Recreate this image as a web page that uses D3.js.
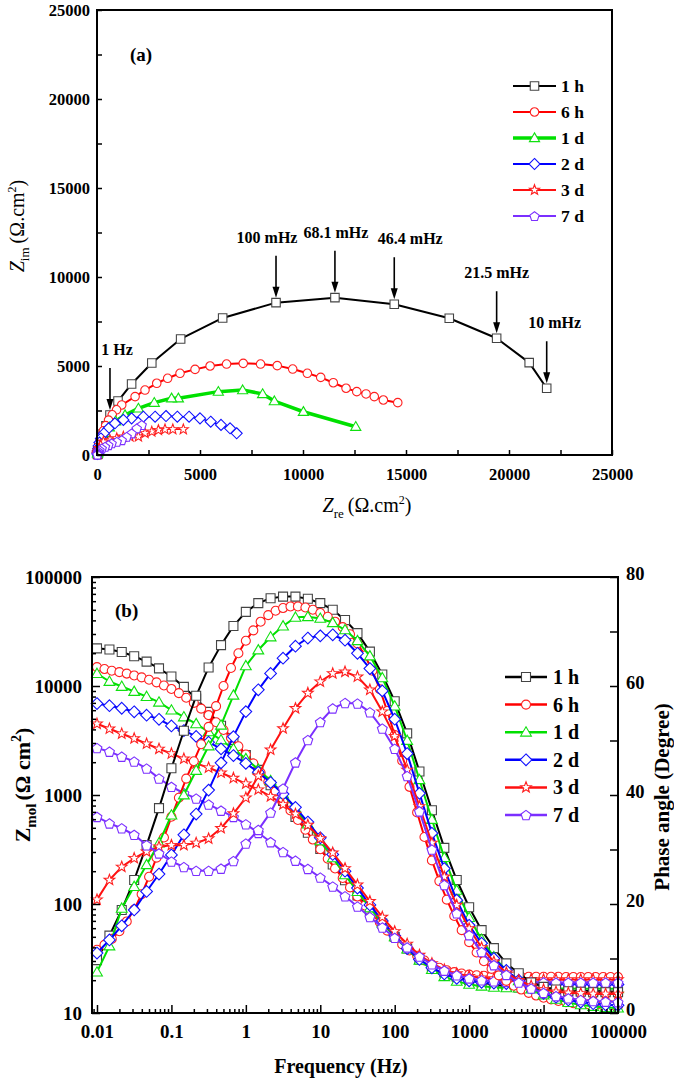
<!DOCTYPE html>
<html>
<head>
<meta charset="utf-8">
<script src="https://cdn.jsdelivr.net/npm/d3@7"></script>
<style>
  body { margin: 0; background: #fff; }
  svg { display: block; }
</style>
</head>
<body>
<svg id="chart" width="674" height="1080"></svg>
<script>
// ===== Data =====
const seriesNames  = ['1 h', '6 h', '1 d', '2 d', '3 d', '7 d'];
const seriesColors = ['#000000', '#ff0000', '#00e000', '#0000ff', '#ff1010', '#7b2fff'];
const markerColors = ['#444444', '#ff2020', '#10e010', '#1010ff', '#ff2020', '#7b2fff'];
const markerTypes  = ['square', 'circle', 'triangle', 'diamond', 'star', 'pentagon'];

// (a) Nyquist: [Zre, Zim], from 10 mHz upward
const nyq1h = [[21830,3750],[20980,5190],[19400,6560],[17100,7680],[14430,8470],[11550,8840],
  [8690,8560],[6100,7700],[4060,6520],[2660,5170],[1680,3990],[1020,3030],[630,2250],[435,1640],
  [300,1190],[210,860],[150,610],[110,440],[80,310],[60,220],[50,160],[40,110],[35,75],[30,50],[27,30]];
const nyq6h = [[14600,2940],[13900,3090],[13460,3280],[13060,3430],[12610,3560],[12090,3750],
  [11470,4060],[10860,4360],[10210,4590],[9500,4830],[8750,5020],[7940,5110],[7100,5150],[6290,5110],
  [5490,5000],[4760,4810],[4030,4590],[3430,4310],[2900,4030],[2330,3650],[1850,3280],[1200,2810],
  [950,2540],[740,2260],[560,1960],[420,1650],[310,1360],[220,1080],[160,830],[115,620],[85,450],
  [60,310],[45,200],[35,120],[28,70]];
const nyq1d = [[12560,1590],[10020,2430],[8610,3030],[8040,3430],[7070,3650],[5890,3560],[3950,3190],
  [3620,3190],[2780,2940],[2010,2620],[1360,2250],[900,1900],[600,1560],[400,1250],[270,980],[180,750],
  [120,560],[85,410],[60,290],[45,200],[35,130],[28,80]];
const nyq2d = [[6780,1220],[6460,1500],[6020,1690],[5520,1870],[5000,2060],[4470,2150],[3900,2150],
  [3350,2190],[2820,2150],[2250,2150],[1680,2060],[1280,1970],[870,1780],[560,1500],[330,1210],
  [190,930],[120,700],[80,510],[58,360],[44,250],[35,160],[29,100],[25,60]];
const nyq3d = [[4190,1440],[3680,1440],[3300,1440],[2980,1400],[2660,1310],[2330,1220],[2010,1030],
  [1600,1030],[1280,1030],[960,940],[630,840],[310,750],[180,560],[110,380],[70,250],[45,150],[32,90],[25,50]];
const nyq7d = [[2170,1690],[1930,1500],[1680,1220],[1440,1030],[1200,840],[960,750],[710,660],
  [550,560],[390,470],[230,370],[120,280],[65,200],[40,130],[30,80],[24,45],[21,25]];

// (b) Bode frequencies (Hz)
const freqA = [0.01,0.0147,0.0215,0.0316,0.0464,0.0681,
  0.1,0.147,0.215,0.316,0.464,0.681, 1,1.47,2.15,3.16,4.64,6.81,
  10,14.7,21.5,31.6,46.4,68.1, 100,147,215,316,464,681,
  1000,1470,2150,3160,4640,6810, 10000,14700,21500,31600,46400,68100, 100000];
const freqB = [0.01,0.0126,0.0158,0.02,0.0251,0.0316,0.0398,0.0501,0.0631,0.0794,
  0.1,0.126,0.158,0.2,0.251,0.316,0.398,0.501,0.631,0.794,
  1,1.26,1.58,2,2.51,3.16,3.98,5.01,6.31,7.94,
  10,12.6,15.8,20,25.1,31.6,39.8,50.1,63.1,79.4,
  100,126,158,200,251,316,398,501,631,794,
  1000,1260,1580,2000,2510,3160,3980,5010,6310,7940,
  10000,12600,15800,20000,25100,31600,39800,50100,63100,79400, 100000];

// |Z| (ohm cm2)
const zmod1h = [22150,21600,20480,18740,16750,14500,12230,9820,7690,5790,4320,3200,
  2330,1700,1230,880,630,450,320,230,165,120,88,66,50,39,31,26,23.5,21.5,
  20,19,18.2,17.6,17.2,16.8,16.5,16.3,16.1,16,15.9,15.8,15.7];
const zmod6h = [14900,14300,13800,13400,13000,12500,12000,11400,10800,10100,
  9400,8600,7800,7000,6200,5400,4650,3950,3350,2800,
  2350,1950,1600,1320,1080,880,720,590,480,390,
  318,260,212,173,142,117,97,81,68,57,
  49,42.5,37.5,33.5,30.3,27.8,26,24.7,23.7,23,
  22.5,22.2,22,21.8,21.7,21.6,21.6,21.5,21.5,21.5,
  21.5,21.5,21.5,21.4,21.4,21.4,21.4,21.4,21.4,21.4,21.4];
const zmod1d = [13000,11000,9900,8900,8000,7100,6000,5200,4500,3800,3200,2650,
  2150,1720,1350,1020,750,540,380,265,185,130,92,67,50,38.5,30.5,25,21.5,19.5,
  18.3,17.6,17.2,17,16.9,16.9,16.8,16.8,16.8,16.7,16.7,16.7,16.7];
const zmod2d = [6900,6600,6250,5800,5400,4950,4300,3900,3450,3050,2650,2300,
  1950,1620,1300,1020,770,565,405,285,200,140,98,70,51,39,31,26,22.8,20.8,
  19.7,19.1,18.8,18.6,18.5,18.5,18.4,18.4,18.4,18.4,18.3,18.3,18.3];
const zmod3d = [4500,4050,3650,3300,2950,2650,2400,2150,1950,1780,1600,1430,
  1270,1120,970,820,670,530,400,295,212,150,106,76,56,43,34,28.5,25,23,
  21.8,21.1,20.7,20.5,20.4,20.4,20.3,20.3,20.3,20.3,20.3,20.3,20.3];
const zmod7d = [2700,2500,2250,2030,1750,1420,1190,1040,930,820,720,630,
  540,450,370,300,250,210,175,145,118,95,76,61,49,40,33,28,24.5,22.2,
  20.8,20,19.6,19.3,19.2,19.1,19.1,19,19,19,19,19,19];

// phase angle (degree)
const phase1h = [9.7,14.2,18.9,24.4,30.8,37.6,44.9,51.8,58.2,63.4,67.5,71,
  73.6,75.2,76.1,76.4,76.4,76,75.2,74,72.1,69.7,66.3,62.1,57.2,51.3,44.3,37.2,30.3,24.4,
  19.4,15.2,11.9,9.1,7.3,5.6,4.8,4.3,4,3.9,3.8,3.8,3.8];
const phase6h = [11.6,12.5,13.6,15,16.8,19,21.8,25,28.5,32.2,
  36,39.5,43,46.2,49.3,52.5,56.3,60,63.3,66,
  68.3,70.2,71.8,73,73.8,74.3,74.6,74.6,74.4,74,
  73.4,72.7,71.8,70.8,69.5,67.8,65.6,62.8,59.4,55.4,
  51,46.3,41.5,36.8,32.3,28,24.2,20.8,17.8,15.2,
  13,11.1,9.5,8.1,6.9,5.9,5,4.3,3.7,3.2,
  2.8,2.5,2.2,2,1.8,1.7,1.6,1.5,1.4,1.4,1.3];
const phase1d = [7.5,12.3,19.2,23.2,27.2,31.2,36.3,40,44.5,49,52.8,58.3,
  63.7,66.6,69,71,72.6,72.7,72.4,71.6,70.3,68.3,65.5,61.5,56.3,50,42.8,35.5,28.5,22.5,
  17.5,13.5,10.3,7.8,5.9,4.4,3.3,2.5,1.9,1.5,1.2,1,0.9];
const phase2d = [11,13.4,16,18.9,22.3,25.5,29,32.7,36.5,40.9,45.9,50.7,
  55.3,59.3,62.3,65.1,67.3,68.8,69.2,69.4,68.4,66,63.2,59.1,53.9,47.6,40.3,33,26.5,20.7,
  16.1,12.8,10,7.8,6,4.6,3.6,2.9,2.4,2,1.7,1.5,1.4];
const phase3d = [20.8,24.4,26.8,28.4,29.6,30.5,30.8,30.8,31.2,32,33.9,36.6,
  39.5,43.5,48.3,52.2,55.9,58.7,60.8,62.3,62.6,61.7,59.3,55.3,50.8,44.6,37.9,31.2,25,19.8,
  15.5,12,9.4,7.4,6,5,4.3,3.9,3.7,3.6,3.5,3.5,3.5];
const phase7d = [36,34.8,33.9,32.7,30.8,29.3,27.8,26.8,26.1,26.1,26.5,27.9,
  31.1,33.6,36.8,41.2,46,50.1,53.4,55.9,56.9,56.8,55.2,52.2,48.5,43.5,37,30,23.5,18.3,
  14.3,11.2,8.8,7,5.6,4.5,3.7,3.1,2.7,2.4,2.2,2.1,2];

// Frequency labels marked on the 1 h Nyquist curve, with the index of the point
const annLabels = ['1 Hz', '100 mHz', '68.1 mHz', '46.4 mHz', '21.5 mHz', '10 mHz'];
const annIndex  = [12, 6, 5, 4, 2, 0];

const nyquist   = [nyq1h, nyq6h, nyq1d, nyq2d, nyq3d, nyq7d];
const bodeFreq  = [freqA, freqB, freqA, freqA, freqA, freqA];
const bodeMod   = [zmod1h, zmod6h, zmod1d, zmod2d, zmod3d, zmod7d];
const bodePhase = [phase1h, phase6h, phase1d, phase2d, phase3d, phase7d];

// ===== Helpers =====
const FONT = '"Liberation Serif", "Times New Roman", serif';
const svg = d3.select('#chart');

function polyPath(pts) {
    return 'M' + pts.map(p => p[0].toFixed(2) + ',' + p[1].toFixed(2)).join('L') + 'Z';
}

// open Origin-style marker, s = nominal width in px
function markerPath(type, s) {
    const h = s / 2;
    if (type === 'square')   return polyPath([[-h,-h],[h,-h],[h,h],[-h,h]]);
    if (type === 'circle')   return `M${h},0A${h},${h} 0 1,1 ${-h},0A${h},${h} 0 1,1 ${h},0Z`;
    if (type === 'triangle') { const r = h * 1.2; return polyPath([[0,-r],[r,r*0.72],[-r,r*0.72]]); }
    if (type === 'diamond')  { const r = h * 1.3; return polyPath([[0,-r],[r,0],[0,r],[-r,0]]); }
    if (type === 'star') {
        const pts = [];
        for (let k = 0; k < 10; k++) {
            const r = k % 2 === 0 ? h * 1.25 : h * 0.52;
            const a = -Math.PI / 2 + k * Math.PI / 5;
            pts.push([r * Math.cos(a), r * Math.sin(a)]);
        }
        return polyPath(pts);
    }
    // pentagon
    const pts = [];
    for (let k = 0; k < 5; k++) {
        const a = -Math.PI / 2 + k * 2 * Math.PI / 5;
        pts.push([h * 1.15 * Math.cos(a), h * 1.15 * Math.sin(a) + 0.6]);
    }
    return polyPath(pts);
}

function drawSeries(g, pts, xs, ys, i, lw, ms) {
    const line = d3.line().x(d => xs(d[0])).y(d => ys(d[1]));
    g.append('path')
        .attr('d', line(pts))
        .attr('fill', 'none')
        .attr('stroke', seriesColors[i])
        .attr('stroke-width', lw)
        .attr('stroke-linejoin', 'round');
    g.selectAll(null).data(pts).join('path')
        .attr('transform', d => `translate(${xs(d[0])},${ys(d[1])})`)
        .attr('d', markerPath(markerTypes[i], ms))
        .attr('fill', '#fff')
        .attr('stroke', markerColors[i])
        .attr('stroke-width', 1.1);
}

function styleAxis(g, size) {
    g.select('.domain').remove();
    g.selectAll('line').attr('stroke', '#000').attr('stroke-width', 1.5);
    g.selectAll('text')
        .attr('font-family', FONT)
        .attr('font-size', size)
        .attr('font-weight', 'bold')
        .attr('fill', '#000');
}

function drawLegend(x1, x2, xt, y0, dy, size, ms, lws) {
    seriesNames.forEach((name, i) => {
        const y = y0 + i * dy;
        const xm = (x1 + x2) / 2;
        svg.append('line')
            .attr('x1', x1).attr('x2', x2).attr('y1', y).attr('y2', y)
            .attr('stroke', seriesColors[i]).attr('stroke-width', lws[i]);
        svg.append('path')
            .attr('transform', `translate(${xm},${y})`)
            .attr('d', markerPath(markerTypes[i], ms))
            .attr('fill', '#fff').attr('stroke', markerColors[i]).attr('stroke-width', 1.1);
        svg.append('text')
            .attr('x', xt).attr('y', y).attr('dy', '0.35em')
            .attr('font-family', FONT).attr('font-size', size).attr('font-weight', 'bold')
            .text(name);
    });
}

// ===== Panel (a): Nyquist =====
const xA = d3.scaleLinear().domain([0, 25000]).range([97, 612]);
const yA = d3.scaleLinear().domain([0, 25000]).range([455, 10]);

const gA = svg.append('g');
const lwA = [2, 2, 3.5, 1.5, 1.5, 1.5];
nyquist.forEach((pts, i) => drawSeries(gA, pts, xA, yA, i, lwA[i], 8.5));

const axA_x = svg.append('g').attr('transform', 'translate(0,455)')
    .call(d3.axisBottom(xA).tickValues(d3.range(0, 25001, 2500))
        .tickFormat(d => d % 5000 === 0 ? d : '')
        .tickSizeInner(-5).tickSizeOuter(0).tickPadding(13));
styleAxis(axA_x, 16.5);

const axA_y = svg.append('g').attr('transform', 'translate(97,0)')
    .call(d3.axisLeft(yA).tickValues(d3.range(0, 25001, 2500))
        .tickFormat(d => d % 5000 === 0 ? d : '')
        .tickSizeInner(-5).tickSizeOuter(0).tickPadding(7));
styleAxis(axA_y, 16.5);

svg.append('rect').attr('x', 97).attr('y', 10).attr('width', 515).attr('height', 445)
    .attr('fill', 'none').attr('stroke', '#000').attr('stroke-width', 2);

// frequency annotations with arrows
const annDx = [7, -9, 1, 16, 0, 8];
annLabels.forEach((lab, j) => {
    const p = nyq1h[annIndex[j]];
    const px = xA(p[0]), py = yA(p[1]);
    const base = py - 60;
    svg.append('text')
        .attr('x', px + annDx[j]).attr('y', base)
        .attr('text-anchor', 'middle')
        .attr('font-family', FONT).attr('font-size', 16).attr('font-weight', 'bold')
        .text(lab);
    const tipY = py - 5;
    svg.append('line')
        .attr('x1', px).attr('x2', px).attr('y1', base + 13).attr('y2', tipY - 8)
        .attr('stroke', '#000').attr('stroke-width', 1.6);
    svg.append('path')
        .attr('d', polyPath([[px - 3.5, tipY - 11], [px + 3.5, tipY - 11], [px, tipY]]))
        .attr('fill', '#000');
});

svg.append('text').attr('x', 130).attr('y', 61)
    .attr('font-family', FONT).attr('font-size', 19).attr('font-weight', 'bold').text('(a)');

drawLegend(513, 556, 561, 86, 26, 17.5, 8.5, [2, 2, 3.5, 2, 2, 2]);

// axis titles (a)
const tA_y = svg.append('text')
    .attr('transform', 'translate(24,226) rotate(-90)')
    .attr('text-anchor', 'middle')
    .attr('font-family', FONT).attr('font-size', 20);
tA_y.append('tspan').attr('font-style', 'italic').text('Z');
tA_y.append('tspan').attr('font-size', 13).attr('dy', 5).text('im');
tA_y.append('tspan').attr('dy', -5).attr('dx', 4).text('(Ω.cm');
tA_y.append('tspan').attr('font-size', 12).attr('dy', -8).text('2');
tA_y.append('tspan').attr('dy', 8).text(')');

const tA_x = svg.append('text')
    .attr('transform', 'translate(367,512)')
    .attr('text-anchor', 'middle')
    .attr('font-family', FONT).attr('font-size', 20);
tA_x.append('tspan').attr('font-style', 'italic').text('Z');
tA_x.append('tspan').attr('font-size', 13).attr('dy', 6).text('re');
tA_x.append('tspan').attr('dy', -6).attr('dx', 4).text('(Ω.cm');
tA_x.append('tspan').attr('font-size', 12).attr('dy', -8).text('2');
tA_x.append('tspan').attr('dy', 8).text(')');

// ===== Panel (b): Bode =====
const xB  = d3.scaleLog().domain([0.00857, 1e5]).range([92, 618]);
const yBm = d3.scaleLog().domain([10, 1e5]).range([1013, 577]);
const yBp = d3.scaleLinear().domain([0, 80]).range([1013, 577]);

const gB = svg.append('g');
bodeMod.forEach((mod, i) => {
    const pts = bodeFreq[i].map((f, j) => [f, mod[j]]);
    drawSeries(gB, pts, xB, yBm, i, 2, 9);
});
bodePhase.forEach((ph, i) => {
    const pts = bodeFreq[i].map((f, j) => [f, ph[j]]);
    drawSeries(gB, pts, xB, yBp, i, 2, 9);
});

const decX = [0.01, 0.1, 1, 10, 100, 1000, 10000, 100000];
const minorX = [];
[0.001, 0.01, 0.1, 1, 10, 100, 1000, 10000].forEach(d => {
    for (let m = 2; m <= 9; m++) { const v = d * m; if (v > 0.00857 && v < 1e5) minorX.push(v); }
});
const decY = [10, 100, 1000, 10000, 100000];
const minorY = [];
decY.slice(0, 4).forEach(d => { for (let m = 2; m <= 9; m++) minorY.push(d * m); });

const axB_x = svg.append('g').attr('transform', 'translate(0,1013)')
    .call(d3.axisBottom(xB).tickValues(decX).tickFormat(d => String(d))
        .tickSizeInner(-8).tickSizeOuter(0).tickPadding(12));
styleAxis(axB_x, 19);
const axB_xm = svg.append('g').attr('transform', 'translate(0,1013)')
    .call(d3.axisBottom(xB).tickValues(minorX).tickFormat('').tickSizeInner(-4).tickSizeOuter(0));
styleAxis(axB_xm, 19);

const axB_y = svg.append('g').attr('transform', 'translate(92,0)')
    .call(d3.axisLeft(yBm).tickValues(decY).tickFormat(d => String(d))
        .tickSizeInner(-8).tickSizeOuter(0).tickPadding(10));
styleAxis(axB_y, 19);
const axB_ym = svg.append('g').attr('transform', 'translate(92,0)')
    .call(d3.axisLeft(yBm).tickValues(minorY).tickFormat('').tickSizeInner(-4).tickSizeOuter(0));
styleAxis(axB_ym, 19);

const axB_r = svg.append('g').attr('transform', 'translate(618,0)')
    .call(d3.axisRight(yBp).tickValues(d3.range(0, 81, 10))
        .tickFormat(d => d % 20 === 0 ? d : '')
        .tickSizeInner(-8).tickSizeOuter(0).tickPadding(8));
styleAxis(axB_r, 18.5);
axB_r.selectAll('text').attr('dy', '0.15em');

svg.append('rect').attr('x', 92).attr('y', 577).attr('width', 526).attr('height', 436)
    .attr('fill', 'none').attr('stroke', '#000').attr('stroke-width', 2);

svg.append('text').attr('x', 115).attr('y', 617)
    .attr('font-family', FONT).attr('font-size', 19).attr('font-weight', 'bold').text('(b)');

drawLegend(505, 547, 553, 677, 27.6, 20, 9, [2.5, 2.5, 2.5, 2.5, 2.5, 2.5]);

// axis titles (b)
const tB_y = svg.append('text')
    .attr('transform', 'translate(30,785) rotate(-90)')
    .attr('text-anchor', 'middle')
    .attr('font-family', FONT).attr('font-size', 22).attr('font-weight', 'bold');
tB_y.append('tspan').text('Z');
tB_y.append('tspan').attr('font-size', 15).attr('dy', 6).text('mol');
tB_y.append('tspan').attr('dy', -6).attr('dx', 3).text('(Ω cm');
tB_y.append('tspan').attr('font-size', 14).attr('dy', -9).text('2');
tB_y.append('tspan').attr('dy', 9).text(')');

svg.append('text')
    .attr('transform', 'translate(669,797) rotate(-90)')
    .attr('text-anchor', 'middle')
    .attr('font-family', FONT).attr('font-size', 21).attr('font-weight', 'bold')
    .text('Phase angle (Degree)');

svg.append('text')
    .attr('x', 341).attr('y', 1073)
    .attr('text-anchor', 'middle')
    .attr('font-family', FONT).attr('font-size', 20).attr('font-weight', 'bold')
    .text('Frequency (Hz)');
</script>
</body>
</html>
